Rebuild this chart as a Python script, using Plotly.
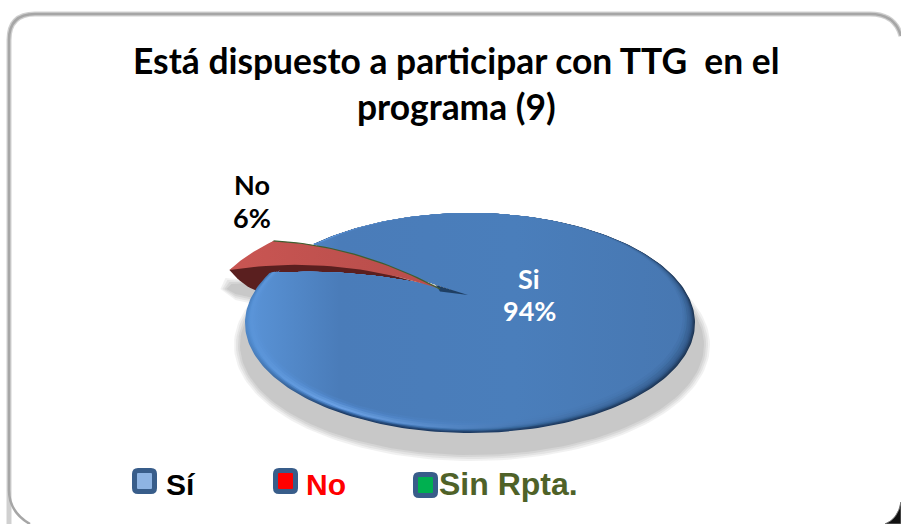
import numpy as np
import plotly.graph_objects as go

# Values
categories = ["Sí", "No", "Sin Rpta."]
labels = ["Si", "No", "Sin Rpta."]
shares = [94, 6, 0]
title_lines = ["Está dispuesto a participar con TTG \u00a0en el", "programa (9)"]

W, H = 901, 524
TITLE_FONT = "Lato"
LEGEND_FONT = "Liberation Sans"

# pie in perspective: a circle seen from above and front
CX, CY, RX, RY, K = 470, 295, 217.6, 102.9, 0.2545
TOP = CY - RY / (1 + K)
START = 193
RIM_SHIFT = np.array([-40, -3])
TIP_SHIFT = np.array([-28, -6])
UPPER_BOW = 10


def rim(t0, t1, scale=1.0, n=160):
    t = np.radians(np.linspace(t0, t1, n))
    w = 1 - K * np.sin(t)
    x = CX + RX * np.cos(t) / w
    y = CY + RY * np.sin(t) / w
    # bevel layers shrink towards the top of the pie
    return np.column_stack([CX + (x - CX) * scale, TOP + (y - TOP) * scale])


def bow(p, q, lift, n=30):
    p, q = np.asarray(p, float), np.asarray(q, float)
    c = (p + q) / 2 + np.array([0, -2 * lift])
    u = np.linspace(0, 1, n)[:, None]
    return (1 - u) ** 2 * p + 2 * u * (1 - u) * c + u**2 * q


def add_poly(fig, pts, color=None, grad=None, opacity=1, line=None):
    kw = {}
    if grad:
        kw["fillgradient"] = dict(type="horizontal", colorscale=grad, start=245, stop=695)
    else:
        kw["fillcolor"] = color
    fig.add_trace(go.Scatter(
        x=pts[:, 0], y=pts[:, 1], mode="lines", fill="toself", opacity=opacity,
        line=dict(width=line[1], color=line[0]) if line else dict(width=0),
        hoverinfo="skip", showlegend=False, **kw,
    ))


# angles of every slice, clockwise from START
no_end = START + shares[1] * 3.6
blank_end = no_end + shares[2] * 3.6
si_end = blank_end + shares[0] * 3.6
apex = np.array([CX - 2, CY])
tip = apex + TIP_SHIFT

no_rim = rim(START, no_end, n=50) + RIM_SHIFT
no_low, no_up = no_rim[0], no_rim[-1]
blank_rim = rim(no_end, blank_end, n=2) + RIM_SHIFT

fig = go.Figure()

# soft shadows
for grow, alpha in [(6, 0.25), (4, 0.35), (2, 0.5), (0, 1)]:
    t = np.radians(np.linspace(0, 360, 200))
    pts = np.column_stack([472 + (232 + grow) * np.cos(t), 345 + (110 + grow) * np.sin(t)])
    add_poly(fig, pts, color=f"rgba(200,200,200,{alpha})")
    low = no_low + np.array([0, 12])
    pts = np.vstack([low + [2 - grow, 2 - grow], low + [-3 - grow, 7], low + [6, 12 + grow], low + [30, 17 + grow],
                     low + [40, 0], low + [2 - grow, 2 - grow]])
    add_poly(fig, pts, color=f"rgba(200,200,200,{alpha})")

# dark underside of the No slice
under = np.vstack([bow(no_low, no_low + [28, 21], -3, 12), tip[None, :], no_up[None, :]])
add_poly(fig, under, color="#5a1f1f")

# Si slice, outer rim first and inner colours last
bevel = [
    (1.000, "#4f86c6", "#1c3a62", "#1c3a62", "#1d3553"),
    (0.996, "#5089ca", "#254a7c", "#24456f", "#233f63"),
    (0.991, "#528ccf", "#33639f", "#2e5788", "#2a4a74"),
    (0.987, "#548fd2", "#4a80c4", "#386a9f", "#2f5482"),
    (0.982, "#5691d5", "#6aa0e4", "#4171ab", "#345c8d"),
    (0.978, "#5893d7", "#6aa0e4", "#4677b2", "#375f92"),
    (0.973, "#5a94d8", "#5f96d8", "#4a7bb7", "#3a6598"),
    (0.964, "#5a94d8", "#5288cc", "#4a7dba", "#3f6ea4"),
    (0.955, "#5a94d8", "#4c80c0", "#4a7ebb", "#4472ab"),
    (0.945, "#5a94d8", "#4a7cb9", "#4a7ebb", "#4777b1"),
]
for scale, c0, c1, c2, c3 in bevel:
    arc = rim(blank_end, si_end, scale=scale, n=300)
    pts = np.vstack([arc, bow(rim(START, START, n=1)[0], apex, 9)[1:], rim(blank_end, blank_end, n=1)])
    add_poly(fig, pts, grad=[[0, c0], [0.21, c1], [0.6, c2], [1, c3]])

# dark sliver between the exploded tip and the pie centre
add_poly(fig, np.vstack([tip + [-4, -4], apex, tip + [0, 2.5]]), color="#1f3f63")

# No slice
face = np.vstack([no_rim, bow(no_up, tip, UPPER_BOW), bow(tip, no_low, 13)[1:]])
add_poly(fig, face, grad=[[0, "#c85552"], [0.25, "#bd504d"], [0.5, "#b84c4a"], [1, "#b04a48"]])

# Sin Rpta. has no share, so only its edge is seen
edge = np.vstack([blank_rim[-1:], bow(blank_rim[-1], tip, UPPER_BOW)])
fig.add_trace(go.Scatter(x=edge[:, 0], y=edge[:, 1], mode="lines",
                         line=dict(width=1.2, color="#3f5f30"), hoverinfo="skip", showlegend=False))


def text(x, y, s, size, color, font=TITLE_FONT, bold=True, anchor="center"):
    fig.add_annotation(x=x, y=y, text=f"<b>{s}</b>" if bold else s, showarrow=False, xanchor=anchor,
                       yanchor="middle", font=dict(family=font, size=size, color=color))


# titles and data labels
text(456, 60, title_lines[0], 35.4, "#000000")
text(456, 106, title_lines[1], 35.4, "#000000")
text(252, 184, labels[1], 27, "#000000")
text(252, 217, f"{shares[1]}%", 27, "#000000")
text(529, 278, labels[0], 27, "#ffffff")
text(529, 310, f"{shares[0]}%", 27, "#ffffff")


def box(x0, y0, x1, y1, r):
    return (f"M{x0+r},{y0} L{x1-r},{y0} Q{x1},{y0} {x1},{y0+r} L{x1},{y1-r} Q{x1},{y1} {x1-r},{y1} "
            f"L{x0+r},{y1} Q{x0},{y1} {x0},{y1-r} L{x0},{y0+r} Q{x0},{y0} {x0+r},{y0} Z")


shapes = [
    # card border
    dict(type="path", path="M9,524 L9,40 Q9,14 35,14 L870,14 Q895,14 901,36", line=dict(color="rgba(150,150,150,0.45)", width=5)),
    dict(type="path", path="M30,524 Q9,512 9,490 L9,40 Q9,14 35,14 L870,14 Q895,14 901,36", line=dict(color="#a6a6a6", width=2.5)),
    dict(type="path", path="M901,502 Q898,519 885,524 L901,524 Z", fillcolor="#111111", line=dict(color="#777777", width=1)),
]

# legend keys
legend_x = [132, 273, 413]
legend_y = [468, 468, 472]
legend_text_x = [164, 304, 437]
legend_size = [30, 30, 32]
legend_fill = ["#8eb4e3", "#ff0000", "#00b050"]
legend_color = ["#000000", "#ff0000", "#4f6228"]
for name, x, y, tx, size, fill, color in zip(categories, legend_x, legend_y, legend_text_x, legend_size, legend_fill, legend_color):
    shapes.append(dict(type="path", path=box(x, y, x + 25, y + 26, 6), fillcolor="#385d8a", line=dict(width=0)))
    shapes.append(dict(type="path", path=box(x + 5, y + 5, x + 20, y + 21, 1), fillcolor=fill, line=dict(width=0)))
    text(tx, 484, name, size, color, font=LEGEND_FONT, anchor="left")

fig.update_layout(
    width=W, height=H, autosize=False,
    margin=dict(l=0, r=0, t=0, b=0),
    paper_bgcolor="#ffffff", plot_bgcolor="#ffffff",
    showlegend=False, shapes=shapes,
    xaxis=dict(range=[0, W], visible=False, fixedrange=True),
    yaxis=dict(range=[H, 0], visible=False, fixedrange=True),
)

fig.write_html("out.html", post_script="document.body.style.margin='0';", config={"displayModeBar": False})
